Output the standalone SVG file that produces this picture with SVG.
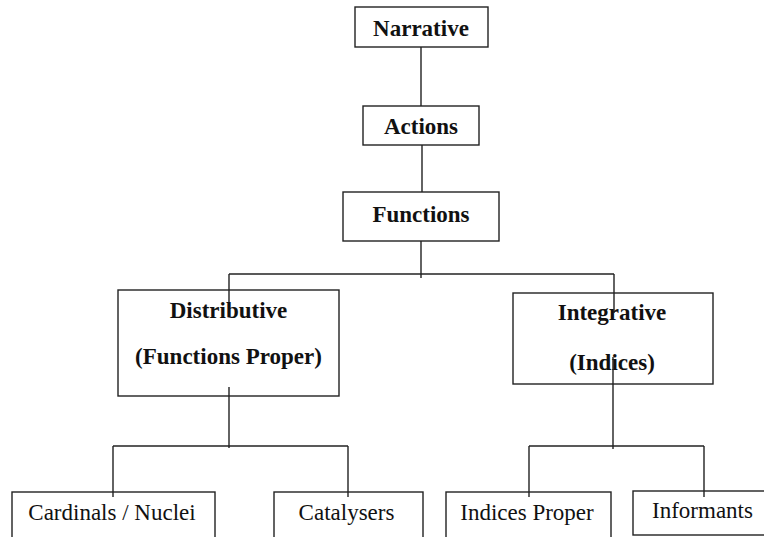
<svg xmlns="http://www.w3.org/2000/svg" width="764" height="537" viewBox="0 0 764 537">
<style>
rect{fill:#fff;stroke:#222;stroke-width:1.4}
.c line{stroke:#222;stroke-width:1.4}
text{font-family:"Liberation Serif","Times New Roman",serif;font-size:23px;fill:#111;text-anchor:middle}
.b{font-weight:bold}
</style>
<rect x="0" y="0" width="764" height="537" style="stroke:none"/>
<g id="narrative"><rect x="355" y="7" width="133" height="40"/><text class="b" x="421" y="36">Narrative</text></g>
<g id="actions"><rect x="363" y="106" width="116" height="39"/><text class="b" x="421" y="134">Actions</text></g>
<g id="functions"><rect x="343" y="192" width="156" height="49"/><text class="b" x="421" y="222">Functions</text></g>
<g id="distributive"><rect x="118" y="290" width="221" height="106"/><text class="b" x="228.5" y="318">Distributive</text><text class="b" x="228.5" y="364">(Functions Proper)</text></g>
<g id="integrative"><rect x="513" y="293" width="200" height="91"/><text class="b" x="612" y="320">Integrative</text><text class="b" x="612" y="370">(Indices)</text></g>
<g id="cardinals"><rect x="12" y="492" width="203" height="60"/><text x="112" y="520">Cardinals / Nuclei</text></g>
<g id="catalysers"><rect x="274" y="492" width="149" height="60"/><text x="346.5" y="520">Catalysers</text></g>
<g id="indices-proper"><rect x="446" y="492" width="165" height="60"/><text x="527" y="520">Indices Proper</text></g>
<g id="informants"><rect x="633" y="491" width="140" height="44"/><text x="702.5" y="518">Informants</text></g>
<g class="c">
<line x1="421" y1="47" x2="421" y2="106"/>
<line x1="422" y1="145" x2="422" y2="192"/>
<line x1="421" y1="241" x2="421" y2="278"/>
<line x1="229" y1="274" x2="614" y2="274"/>
<line x1="229" y1="274" x2="229" y2="302"/>
<line x1="614" y1="274" x2="614" y2="313"/>
<line x1="613" y1="357" x2="613" y2="449"/>
<line x1="229" y1="387" x2="229" y2="448"/>
<line x1="113" y1="446" x2="348" y2="446"/>
<line x1="113" y1="446" x2="113" y2="497"/>
<line x1="348" y1="446" x2="348" y2="497"/>
<line x1="529" y1="446" x2="704" y2="446"/>
<line x1="529" y1="446" x2="529" y2="497"/>
<line x1="704" y1="446" x2="704" y2="497"/>
</g>
</svg>
